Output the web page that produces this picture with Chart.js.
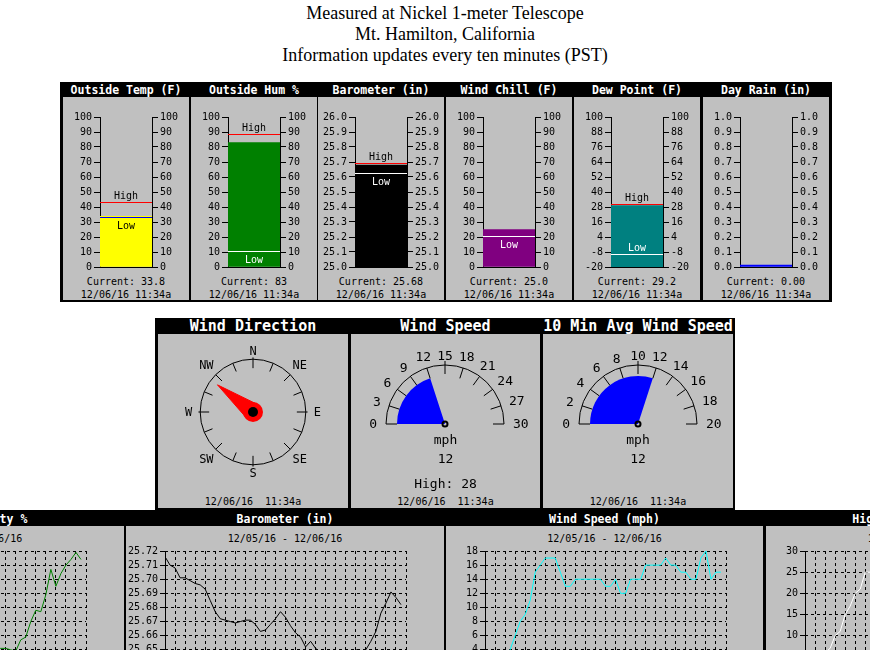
<!DOCTYPE html>
<html>
<head>
<meta charset="utf-8">
<script src="https://cdn.jsdelivr.net/npm/chart.js@4.4.0/dist/chart.umd.min.js"></script>
<style>
html, body { margin: 0; padding: 0; overflow: hidden; background: #fff; }
#page { position: relative; width: 870px; height: 650px; overflow: hidden; }
#title { position: absolute; left: 0; top: 3px; width: 890px; text-align: center;
         font: 18px "Liberation Serif"; line-height: 21px; color: #000; }
</style>
</head>
<body>
<div id="page">
  <div id="title">Measured at Nickel 1-meter Telescope<br>Mt. Hamilton, California<br>Information updates every ten minutes (PST)</div>
</div>
<script>
const stamp = '12/06/16 11:34a';
const stamp2 = '12/06/16  11:34a';

// top row: vertical gauges
const barTitles = ['Outside Temp (F)', 'Outside Hum %', 'Barometer (in)', 'Wind Chill (F)', 'Dew Point (F)', 'Day Rain (in)'];
const barCurrent = [33.8, 83, 25.68, 25.0, 29.2, 0.00];
const barHigh = [43.2, 89, 25.69, null, 30.0, null];
const barLow = [33.2, 11, 25.63, 21, -9.5, null];
const barDecimals = [1, 0, 2, 1, 1, 2];
const tickTemp = [0, 10, 20, 30, 40, 50, 60, 70, 80, 90, 100];
const tickBaro = [25.0, 25.1, 25.2, 25.3, 25.4, 25.5, 25.6, 25.7, 25.8, 25.9, 26.0];
const tickDew = [-20, -8, 4, 16, 28, 40, 52, 64, 76, 88, 100];
const tickRain = [0.0, 0.1, 0.2, 0.3, 0.4, 0.5, 0.6, 0.7, 0.8, 0.9, 1.0];
const barTicks = [tickTemp, tickTemp, tickBaro, tickTemp, tickDew, tickRain];
const barTickDecimals = [0, 0, 1, 0, 0, 1];

// middle row: dials
const windDir = 308;
const compassLabels = ['N', 'NE', 'E', 'SE', 'S', 'SW', 'W', 'NW'];
const windSpeed = 12;
const windHigh = 28;
const speedTicks = [0, 3, 6, 9, 12, 15, 18, 21, 24, 27, 30];
const avgSpeed = 12;
const avgTicks = [0, 2, 4, 6, 8, 10, 12, 14, 16, 18, 20];

// bottom row: 24 h history, one value per half hour
const histSlots = 48;
const histRange = '12/05/16 - 12/06/16';
const histTitles = ['Outside Humidity %', 'Barometer (in)', 'Wind Speed (mph)', 'High Wind Speed (mph)'];
const humHist = [22, 21, 21, 20, 19, 18, 18, 17, 16, 16, 15, 15, 14, 14, 13, 13, 12, 12, 12, 11,
  11, 11, 12, 12, 13, 14, 15, 16, 17, 18, 20, 21, 21, 20, 19, 27, 29, 40, 48, 47,
  59, 77, 65, 74, 80, 84, 89, 84];
const baroHist = [25.716, 25.710, 25.708, 25.701, 25.701, 25.699, 25.697, 25.696, 25.693, 25.685,
  25.677, 25.672, 25.671, 25.670, 25.669, 25.670, 25.671, 25.671, 25.668, 25.663,
  25.664, 25.668, 25.672, 25.677, 25.673, 25.667, 25.662, 25.659, 25.652, 25.656,
  25.651, 25.648, 25.645, 25.643, 25.641, 25.640, 25.642, 25.646, 25.650, 25.649,
  25.650, 25.656, 25.663, 25.676, 25.683, 25.691, 25.687, 25.682];
const windHist = [2, 1, 1, 2, 3, 4, 6, 8, 9, 11, 15, 16, 17, 17, 17, 15, 13, 13, 14, 14,
  14, 14, 14, 14, 13, 13, 14, 12, 12, 14, 14, 14, 16, 16, 16, 16, 17, 16, 16, 15,
  15, 14, 14, 17, 18, 14, 15, 15];
const gustHist = [3, 2, 3, 4, 6, 7, 10, 11, 15, 17, 20, 21, 25, 25, 25, 24, 21, 20, 21, 22,
  21, 22, 21, 22, 20, 20, 21, 19, 19, 21, 22, 22, 24, 24, 23, 24, 25, 24, 23, 22,
  22, 21, 22, 26, 28, 22, 22, 21];
const humTicks = [0, 10, 20, 30, 40, 50, 60, 70, 80, 90];
const baroTicks = [25.63, 25.64, 25.65, 25.66, 25.67, 25.68, 25.69, 25.70, 25.71, 25.72];
const windTicks = [0, 2, 4, 6, 8, 10, 12, 14, 16, 18];
const gustTicks = [0, 5, 10, 15, 20, 25, 30];

// styles
const MONO = 'DejaVu Sans Mono';
const GRAY = '#c0c0c0';
const barColors = ['#ffff00', '#008000', '#000000', '#800080', '#008080', '#0000ff'];
const lowColors = ['#0000ff', '#ffffff', '#ffffff', '#ffffff', '#ffffff', null];
const lowTextColors = ['#000000', '#ffffff', '#ffffff', '#ffffff', '#ffffff', null];

const page = document.getElementById('page');

function div(x, y, w, h, opts) {
  const d = document.createElement('div');
  d.style.cssText = `position:absolute;left:${x}px;top:${y}px;width:${w}px;height:${h}px;`;
  if (opts.bg) d.style.background = opts.bg;
  if (opts.text != null) {
    d.textContent = opts.text;
    d.style.font = opts.font || `10px "${MONO}"`;
    d.style.color = opts.color || '#000';
    d.style.lineHeight = h + 'px';
    d.style.textAlign = 'center';
    d.style.whiteSpace = 'pre';
  }
  page.appendChild(d);
  return d;
}

function cnv(x, y, w, h) {
  const c = document.createElement('canvas');
  c.width = w;
  c.height = h;
  c.style.cssText = `position:absolute;left:${x}px;top:${y}px;width:${w}px;height:${h}px;`;
  page.appendChild(c);
  return c;
}

const noLegend = { legend: { display: false }, tooltip: { enabled: false } };

function barChart(c, i) {
  const ticks = barTicks[i];
  const lo = ticks[0], hi = ticks[ticks.length - 1];
  const dec = barTickDecimals[i];
  const font = { family: MONO, size: 10 };
  const yAxis = pos => ({
    position: pos, min: lo, max: hi,
    afterBuildTicks: s => { s.ticks = ticks.map(v => ({ value: v })); },
    afterFit: s => { s.width = 37; s.paddingTop = 0; s.paddingBottom = 0; },
    ticks: { font, color: '#000', padding: 2, autoSkip: false, callback: v => Number(v).toFixed(dec) },
    grid: { drawOnChartArea: false, tickLength: 6, color: '#000' },
    border: { color: '#000' }
  });
  const hilo = {
    id: 'hilo',
    afterDatasetsDraw(chart) {
      const { ctx, chartArea: a, scales: { y } } = chart;
      const cx = (a.left + a.right) / 2;
      ctx.save();
      ctx.font = `10px "${MONO}"`;
      ctx.textAlign = 'center';
      ctx.lineWidth = 1;
      if (barHigh[i] != null) {
        const py = Math.round(y.getPixelForValue(barHigh[i])) + 0.5;
        ctx.strokeStyle = '#ff0000';
        ctx.beginPath(); ctx.moveTo(a.left, py); ctx.lineTo(a.right, py); ctx.stroke();
        ctx.fillStyle = '#000';
        ctx.textBaseline = 'alphabetic';
        ctx.fillText('High', cx, py - 4);
      }
      if (barLow[i] != null) {
        const py = Math.round(y.getPixelForValue(barLow[i])) + 0.5;
        ctx.strokeStyle = lowColors[i];
        ctx.beginPath(); ctx.moveTo(a.left, py); ctx.lineTo(a.right, py); ctx.stroke();
        ctx.fillStyle = lowTextColors[i];
        if (a.bottom - py > 15) {
          ctx.textBaseline = 'top';
          ctx.fillText('Low', cx, py + 4);
        } else {
          ctx.textBaseline = 'alphabetic';
          ctx.fillText('Low', cx, py - 4);
        }
      }
      ctx.restore();
    }
  };
  new Chart(c, {
    type: 'bar',
    data: {
      labels: [''],
      datasets: [{
        data: [[lo, barCurrent[i]]],
        backgroundColor: barColors[i],
        borderWidth: 0,
        barPercentage: 1,
        categoryPercentage: 1,
        minBarLength: 2
      }]
    },
    options: {
      responsive: false, animation: false, events: [],
      layout: { padding: { top: 20, bottom: 3, left: 0, right: 0 } },
      plugins: noLegend,
      scales: {
        x: {
          grid: { display: false, drawTicks: false },
          ticks: { display: false },
          border: { color: '#000' },
          afterFit: s => { s.height = 0; }
        },
        y: yAxis('left'),
        y2: yAxis('right')
      }
    },
    plugins: [hilo]
  });
}

function dialPlugin(ticks) {
  return {
    id: 'dial',
    afterDatasetsDraw(chart) {
      const ctx = chart.ctx;
      const arc = chart.getDatasetMeta(0).data[0];
      const cx = arc.x, cy = arc.y;
      const max = ticks[ticks.length - 1];
      const R = 59;
      ctx.save();
      ctx.strokeStyle = '#000';
      ctx.fillStyle = '#000';
      ctx.lineWidth = 1;
      ctx.beginPath(); ctx.arc(cx, cy, R, Math.PI, 2 * Math.PI); ctx.stroke();
      ctx.font = `13px "${MONO}"`;
      ctx.textAlign = 'center';
      ctx.textBaseline = 'middle';
      ticks.forEach(v => {
        const p = Math.PI * v / max;
        const mid = v * 2 === max;
        const r1 = mid ? 50 : 48, r2 = mid ? 63 : R;
        const dx = -Math.cos(p), dy = -Math.sin(p);
        ctx.beginPath();
        ctx.moveTo(cx + r1 * dx, cy + r1 * dy);
        ctx.lineTo(cx + r2 * dx, cy + r2 * dy);
        ctx.stroke();
        const lab = String(v);
        const w = ctx.measureText(lab).width;
        const r = 68 + w / 2 * Math.abs(dx);
        ctx.fillText(lab, cx + r * dx, cy + r * dy + 1);
      });
      ctx.lineWidth = 2;
      ctx.beginPath(); ctx.arc(cx, cy, 2.5, 0, 2 * Math.PI); ctx.stroke();
      ctx.restore();
    }
  };
}

function gauge(c, value, ticks) {
  const max = ticks[ticks.length - 1];
  new Chart(c, {
    type: 'doughnut',
    data: {
      datasets: [{
        data: [value, max - value, max],
        backgroundColor: ['#0000ff', 'rgba(0,0,0,0)', 'rgba(0,0,0,0)'],
        borderWidth: 0
      }]
    },
    options: {
      responsive: false, animation: false, events: [],
      cutout: 0, radius: 48, rotation: -90,
      plugins: noLegend
    },
    plugins: [dialPlugin(ticks)]
  });
}

const compassPlugin = {
  id: 'compass',
  beforeDatasetsDraw(chart) {
    const { ctx, scales: { x, y } } = chart;
    const cx = x.getPixelForValue(0), cy = y.getPixelForValue(0);
    const u = x.getPixelForValue(1) - cx;
    ctx.save();
    ctx.strokeStyle = '#000';
    ctx.lineWidth = 1;
    ctx.beginPath(); ctx.arc(cx, cy, u, 0, 2 * Math.PI); ctx.stroke();
    for (let k = 0; k < 16; k++) {
      const a = k * 22.5 * Math.PI / 180;
      const r1 = 49 / 59 * u, r2 = (k % 4 === 0 ? 61 : 59) / 59 * u;
      ctx.beginPath();
      ctx.moveTo(cx + r1 * Math.sin(a), cy - r1 * Math.cos(a));
      ctx.lineTo(cx + r2 * Math.sin(a), cy - r2 * Math.cos(a));
      ctx.stroke();
    }
    ctx.font = `12px "${MONO}"`;
    ctx.fillStyle = '#000';
    ctx.textAlign = 'center';
    ctx.textBaseline = 'middle';
    compassLabels.forEach((lab, k) => {
      const a = k * 45 * Math.PI / 180;
      const w = ctx.measureText(lab).width;
      const r = 68 / 59 * u + w / 2 * Math.abs(Math.sin(a));
      ctx.fillText(lab, cx + r * Math.sin(a), cy - r * Math.cos(a) + 1);
    });
    ctx.restore();
  }
};

function compass(c) {
  const rad = windDir * Math.PI / 180;
  const L = 50.4 / 59, r0 = 10 / 59;
  const phi = Math.acos(r0 / L);
  const tip = { x: L * Math.sin(rad), y: L * Math.cos(rad) };
  const needle = [tip,
    { x: r0 * Math.sin(rad + phi), y: r0 * Math.cos(rad + phi) },
    { x: r0 * Math.sin(rad - phi), y: r0 * Math.cos(rad - phi) },
    tip];
  new Chart(c, {
    type: 'scatter',
    data: {
      datasets: [
        { data: [{ x: 0, y: 0 }], pointRadius: 5, backgroundColor: '#000', borderWidth: 0 },
        { data: [{ x: 0, y: 0 }], pointRadius: 10, backgroundColor: '#ff0000', borderWidth: 0 },
        { data: needle, showLine: true, fill: 'shape', backgroundColor: '#ff0000',
          borderColor: '#ff0000', borderWidth: 1, pointRadius: 0 }
      ]
    },
    options: {
      responsive: false, animation: false, events: [],
      plugins: noLegend,
      scales: {
        x: { type: 'linear', min: -95 / 59, max: 95 / 59, display: false },
        y: { type: 'linear', min: -80 / 59, max: 80 / 59, display: false }
      }
    },
    plugins: [compassPlugin]
  });
}

function histChart(c, values, ticks, dec, color) {
  const lo = ticks[0], hi = ticks[ticks.length - 1];
  const font = { family: MONO, size: 10 };
  const setTicks = s => { s.ticks = ticks.map(v => ({ value: v })); };
  new Chart(c, {
    type: 'line',
    data: {
      datasets: [{
        data: values.map((v, k) => ({ x: k, y: v })),
        borderColor: color, borderWidth: 1, pointRadius: 0, tension: 0, fill: false
      }]
    },
    options: {
      responsive: false, animation: false, events: [],
      layout: { padding: { top: 25, bottom: 38, left: 0, right: c.width - 39 - 241 } },
      plugins: noLegend,
      scales: {
        x: {
          type: 'linear', min: 0, max: histSlots,
          ticks: { display: false, stepSize: 2 },
          grid: { color: '#000', drawTicks: false },
          border: { color: '#000', dash: [3, 3] },
          afterFit: s => { s.height = 0; }
        },
        y: {
          position: 'left', min: lo, max: hi,
          afterBuildTicks: setTicks,
          ticks: { font, color: '#000', padding: 2, autoSkip: false, callback: v => Number(v).toFixed(dec) },
          grid: { drawOnChartArea: false, tickLength: 5, color: '#000' },
          border: { color: '#000' },
          afterFit: s => { s.width = 39; s.paddingTop = 0; s.paddingBottom = 0; }
        },
        yg: {
          position: 'left', min: lo, max: hi,
          afterBuildTicks: setTicks,
          ticks: { display: false },
          grid: { color: '#000', drawTicks: false },
          border: { display: false, dash: [3, 3] },
          afterFit: s => { s.width = 0; }
        }
      }
    }
  });
}

// ---- top row
const topLefts = [63, 191, 318, 446, 574, 703];
div(60, 82, 772, 220, { bg: '#000' });
barTitles.forEach((t, i) => {
  const x = topLefts[i];
  div(x, 97, 126, 203, { bg: GRAY });
  div(x, 83, 126, 15, { text: t, color: '#fff', font: `bold 11.5px "${MONO}"` });
  barChart(cnv(x, 97, 126, 173), i);
  div(x, 275, 126, 13, { text: 'Current: ' + barCurrent[i].toFixed(barDecimals[i]) });
  div(x, 288, 126, 13, { text: stamp });
});

// ---- middle row
const midLefts = [158, 351, 543], midWidths = [190, 189, 190];
const midTitles = ['Wind Direction', 'Wind Speed', '10 Min Avg Wind Speed'];
div(155, 318, 580, 192, { bg: '#000' });
midTitles.forEach((t, i) => {
  div(midLefts[i], 334, midWidths[i], 174, { bg: GRAY });
  div(midLefts[i] - 2, 318, midWidths[i] + 4, 16, { text: t, color: '#fff', font: `bold 15px "${MONO}"` });
  div(midLefts[i], 495, midWidths[i], 13, { text: stamp2 });
});
compass(cnv(158, 332, 190, 160));
gauge(cnv(350, 339, 190, 170), windSpeed, speedTicks);
gauge(cnv(543, 339, 190, 170), avgSpeed, avgTicks);
const big = `13px "${MONO}"`;
div(351, 432, 189, 16, { text: 'mph', font: big });
div(351, 451, 189, 16, { text: String(windSpeed), font: big });
div(351, 476, 189, 16, { text: 'High: ' + windHigh, font: big });
div(543, 432, 190, 16, { text: 'mph', font: big });
div(543, 451, 190, 16, { text: String(avgSpeed), font: big });

// ---- bottom row
const botLefts = [-194, 126, 446, 766], botWidths = [318, 318, 317, 318];
const botSeries = [humHist, baroHist, windHist, gustHist];
const botTicks = [humTicks, baroTicks, windTicks, gustTicks];
const botDec = [0, 2, 0, 0];
const botColors = ['#008000', '#000000', '#00ffff', '#ffffff'];
div(0, 510, 870, 140, { bg: '#000' });
histTitles.forEach((t, i) => {
  const x = botLefts[i], w = botWidths[i];
  div(x, 526, w, 130, { bg: GRAY });
  div(x, 511, w, 16, { text: t, color: '#fff', font: `bold 11.5px "${MONO}"` });
  div(x, 532, w, 13, { text: histRange });
  histChart(cnv(x, 526, w, 190), botSeries[i], botTicks[i], botDec[i], botColors[i]);
});
</script>
</body>
</html>
